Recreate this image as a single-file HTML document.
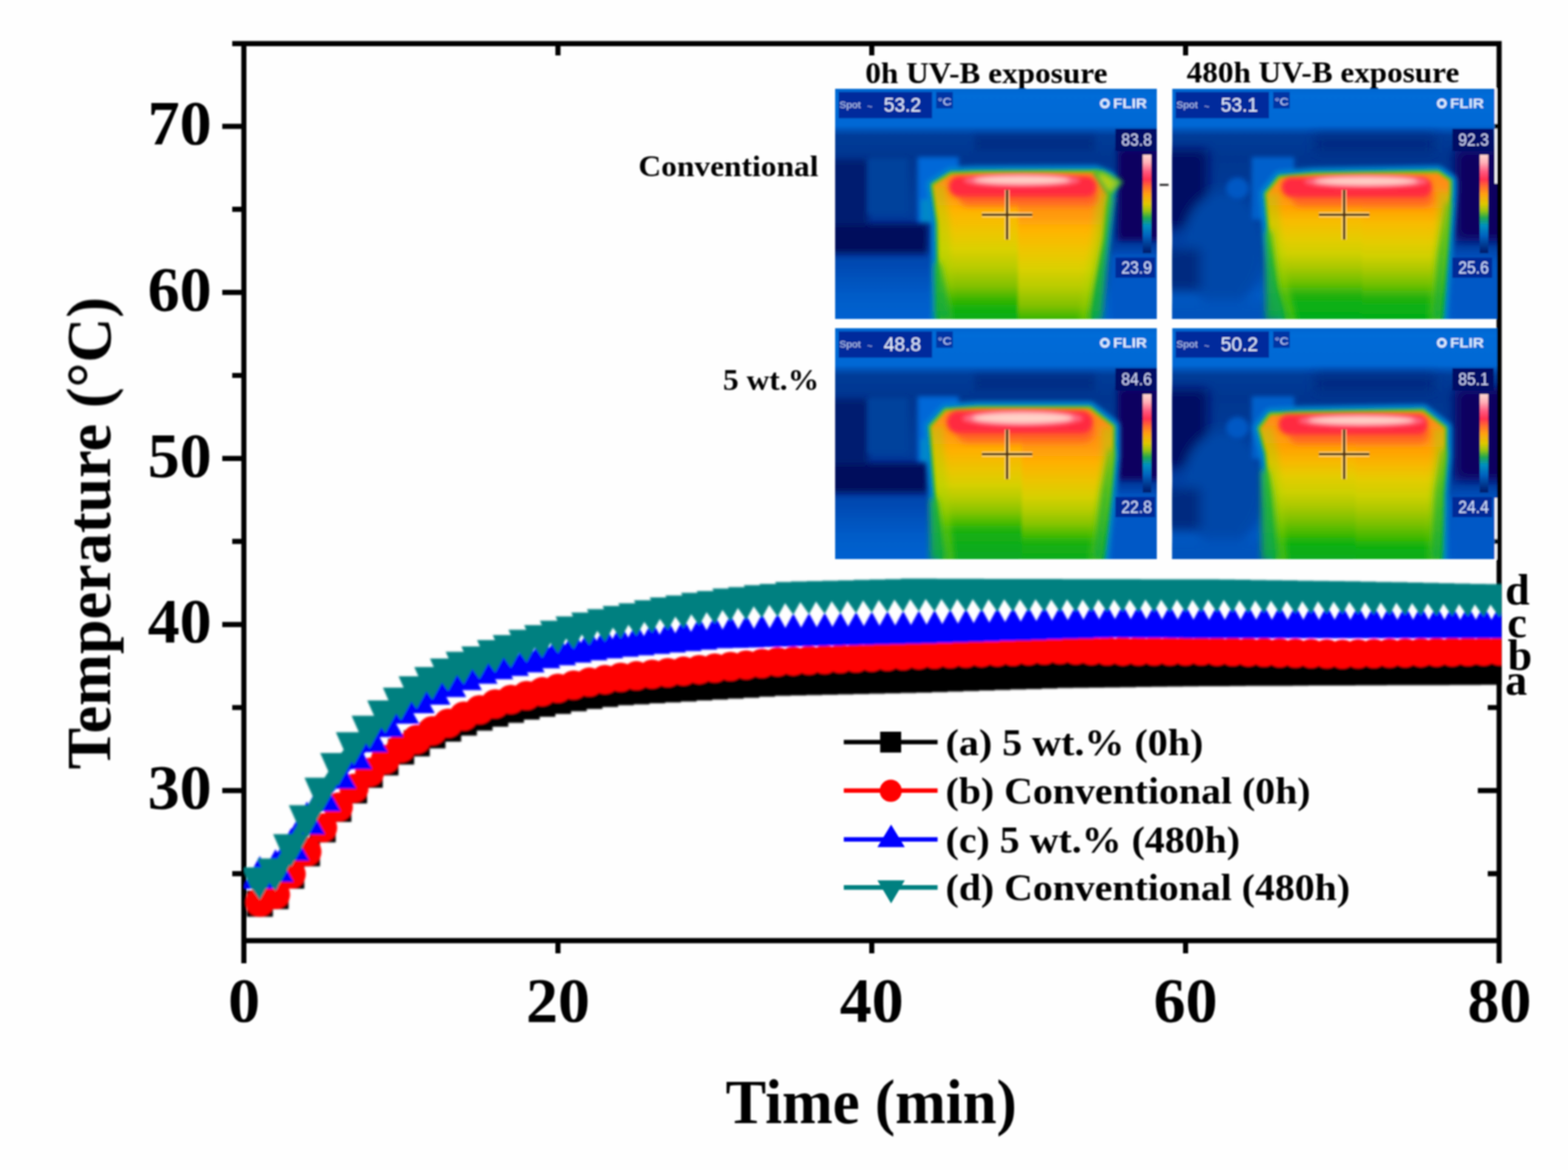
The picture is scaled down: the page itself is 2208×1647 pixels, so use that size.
<!DOCTYPE html>
<html lang="en">
<head>
<meta charset="utf-8">
<title>Temperature vs. time under UV-B exposure</title>
<style>html,body{margin:0;padding:0;background:#fff;overflow:hidden}svg{display:block}</style>
</head>
<body>
<svg width="2208" height="1647" viewBox="0 0 2208 1647">
<rect width="2208" height="1647" fill="#fefefe"/>
<filter id="soft" filterUnits="userSpaceOnUse" x="0" y="0" width="2208" height="1647"><feGaussianBlur stdDeviation="1.15"/></filter>
<g filter="url(#soft)">
<g stroke="#000" stroke-width="7.2" fill="none" stroke-linecap="butt">
<path d="M327 61.3H2114.6M339.79999999999995 1324.2H2114.6M343.4 61.3V1356M2111.0 61.3V1356"/>
<path d="M313 1112.9H343.4M2081 1112.9H2111.0M313 879.1H343.4M2081 879.1H2111.0M313 645.4H343.4M2081 645.4H2111.0M313 411.6H343.4M2081 411.6H2111.0M313 177.8H343.4M2081 177.8H2111.0M327 1229.8H343.4M2095 1229.8H2111.0M327 996H343.4M2095 996H2111.0M327 762.2H343.4M2095 762.2H2111.0M327 528.5H343.4M2095 528.5H2111.0M327 294.7H343.4M2095 294.7H2111.0M785.7 1324.2V1342M785.7 61.3V78M1227.6 1324.2V1342M1227.6 61.3V78M1669.5 1324.2V1342M1669.5 61.3V78"/>
</g>
<clipPath id="pc"><rect x="343.6" y="60" width="1770.8" height="1264"/></clipPath>
<filter id="sf" filterUnits="userSpaceOnUse" x="330" y="780" width="1800" height="540"><feGaussianBlur stdDeviation="0.8"/></filter>
<g clip-path="url(#pc)"><g fill="none" stroke-width="12.0" stroke-linejoin="round" filter="url(#sf)">
<path stroke="#000" d="M365.9 1272.1L388 1261.4L410.1 1232.6L432.2 1201.1L454.3 1167.3L476.4 1138.6L498.5 1112.5L520.6 1090.5L542.7 1073.1L564.8 1057.8L586.8 1046.4L608.9 1035.1L631 1025.6L653.1 1017.1L675.2 1010.1L697.3 1004.6L719.4 999.1L741.5 994.6L763.6 990.6L785.7 986.6L807.8 982.9L829.9 979.6L852 976.8L874.1 974.4L896.2 973.1L918.3 971.7L940.4 970.4L962.5 969.1L984.6 967.8L1006.6 966.4L1028.7 965.1L1050.8 963.8L1072.9 962.4L1095 961.1L1117.1 960.6L1139.2 960.1L1161.3 959.6L1183.4 959.1L1205.5 958.5L1227.6 958L1249.7 957.5L1271.8 957L1293.9 956.5L1316 955.8L1338.1 955.1L1360.2 954.4L1382.3 953.7L1404.4 952.9L1426.5 952.2L1448.5 951.5L1470.6 950.8L1492.7 950.1L1514.8 949.8L1536.9 949.5L1559 949.3L1581.1 949L1603.2 948.7L1625.3 948.4L1647.4 948.2L1669.5 947.9L1691.6 947.6L1713.7 947.5L1735.8 947.4L1757.9 947.2L1780 947.1L1802.1 947L1824.2 946.9L1846.3 946.7L1868.4 946.6L1890.4 946.5L1912.5 946.4L1934.6 946.3L1956.7 946.2L1978.8 946.1L2000.9 946.1L2023 946L2045.1 945.9L2067.2 945.8L2089.3 945.7L2111.4 945.6"/>
<path fill="#000" d="M347.5 1290.5h36.8v-36.8h-36.8zM369.6 1279.8h36.8v-36.8h-36.8zM391.7 1251h36.8v-36.8h-36.8zM413.8 1219.5h36.8v-36.8h-36.8zM435.9 1185.7h36.8v-36.8h-36.8zM458 1157h36.8v-36.8h-36.8zM480.1 1130.9h36.8v-36.8h-36.8zM502.2 1108.9h36.8v-36.8h-36.8zM524.3 1091.5h36.8v-36.8h-36.8zM546.4 1076.2h36.8v-36.8h-36.8zM568.4 1064.8h36.8v-36.8h-36.8zM590.5 1053.5h36.8v-36.8h-36.8zM612.6 1044h36.8v-36.8h-36.8zM634.7 1035.5h36.8v-36.8h-36.8zM656.8 1028.5h36.8v-36.8h-36.8zM678.9 1023h36.8v-36.8h-36.8zM701 1017.5h36.8v-36.8h-36.8zM723.1 1013h36.8v-36.8h-36.8zM745.2 1009h36.8v-36.8h-36.8zM767.3 1005h36.8v-36.8h-36.8zM789.4 1001.3h36.8v-36.8h-36.8zM811.5 998h36.8v-36.8h-36.8zM833.6 995.2h36.8v-36.8h-36.8zM855.7 992.8h36.8v-36.8h-36.8zM877.8 991.5h36.8v-36.8h-36.8zM899.9 990.1h36.8v-36.8h-36.8zM922 988.8h36.8v-36.8h-36.8zM944.1 987.5h36.8v-36.8h-36.8zM966.2 986.1h36.8v-36.8h-36.8zM988.2 984.8h36.8v-36.8h-36.8zM1010.3 983.5h36.8v-36.8h-36.8zM1032.4 982.2h36.8v-36.8h-36.8zM1054.5 980.8h36.8v-36.8h-36.8zM1076.6 979.5h36.8v-36.8h-36.8zM1098.7 979h36.8v-36.8h-36.8zM1120.8 978.5h36.8v-36.8h-36.8zM1142.9 978h36.8v-36.8h-36.8zM1165 977.5h36.8v-36.8h-36.8zM1187.1 976.9h36.8v-36.8h-36.8zM1209.2 976.4h36.8v-36.8h-36.8zM1231.3 975.9h36.8v-36.8h-36.8zM1253.4 975.4h36.8v-36.8h-36.8zM1275.5 974.9h36.8v-36.8h-36.8zM1297.6 974.2h36.8v-36.8h-36.8zM1319.7 973.5h36.8v-36.8h-36.8zM1341.8 972.8h36.8v-36.8h-36.8zM1363.9 972.1h36.8v-36.8h-36.8zM1386 971.3h36.8v-36.8h-36.8zM1408.1 970.6h36.8v-36.8h-36.8zM1430.1 969.9h36.8v-36.8h-36.8zM1452.2 969.2h36.8v-36.8h-36.8zM1474.3 968.5h36.8v-36.8h-36.8zM1496.4 968.2h36.8v-36.8h-36.8zM1518.5 967.9h36.8v-36.8h-36.8zM1540.6 967.7h36.8v-36.8h-36.8zM1562.7 967.4h36.8v-36.8h-36.8zM1584.8 967.1h36.8v-36.8h-36.8zM1606.9 966.8h36.8v-36.8h-36.8zM1629 966.6h36.8v-36.8h-36.8zM1651.1 966.3h36.8v-36.8h-36.8zM1673.2 966h36.8v-36.8h-36.8zM1695.3 965.9h36.8v-36.8h-36.8zM1717.4 965.8h36.8v-36.8h-36.8zM1739.5 965.6h36.8v-36.8h-36.8zM1761.6 965.5h36.8v-36.8h-36.8zM1783.7 965.4h36.8v-36.8h-36.8zM1805.8 965.3h36.8v-36.8h-36.8zM1827.9 965.1h36.8v-36.8h-36.8zM1850 965h36.8v-36.8h-36.8zM1872 964.9h36.8v-36.8h-36.8zM1894.1 964.8h36.8v-36.8h-36.8zM1916.2 964.7h36.8v-36.8h-36.8zM1938.3 964.6h36.8v-36.8h-36.8zM1960.4 964.5h36.8v-36.8h-36.8zM1982.5 964.5h36.8v-36.8h-36.8zM2004.6 964.4h36.8v-36.8h-36.8zM2026.7 964.3h36.8v-36.8h-36.8zM2048.8 964.2h36.8v-36.8h-36.8zM2070.9 964.1h36.8v-36.8h-36.8zM2093 964h36.8v-36.8h-36.8z"/>
<path stroke="#fe0000" d="M365.9 1270L388 1259.3L410.1 1230.5L432.2 1199L454.3 1165.2L476.4 1136L498.5 1109.4L520.6 1086.9L542.7 1069L564.8 1052.9L586.8 1040.8L608.9 1028.5L631 1018L653.1 1008L675.2 999L697.3 990.8L719.4 984.5L741.5 979L763.6 973.6L785.7 968.7L807.8 964.2L829.9 960.1L852 956.5L874.1 953.3L896.2 951.1L918.3 948.9L940.4 946.8L962.5 944.6L984.6 942.4L1006.6 940.2L1028.7 938L1050.8 935.9L1072.9 933.7L1095 931.5L1117.1 930.4L1139.2 929.3L1161.3 928.2L1183.4 927.1L1205.5 926L1227.6 924.9L1249.7 923.8L1271.8 922.7L1293.9 921.6L1316 920.8L1338.1 920L1360.2 919.2L1382.3 918.4L1404.4 917.5L1426.5 916.7L1448.5 915.9L1470.6 915.1L1492.7 914.3L1514.8 914.9L1536.9 915.5L1559 916.1L1581.1 916.4L1603.2 916.3L1625.3 916.3L1647.4 916.2L1669.5 916.2L1691.6 916.1L1713.7 916.6L1735.8 917.1L1757.9 917.6L1780 918.1L1802.1 918.7L1824.2 919.2L1846.3 919.7L1868.4 920.2L1890.4 920.7L1912.5 920.2L1934.6 919.8L1956.7 919.3L1978.8 918.9L2000.9 918.4L2023 917.9L2045.1 917.5L2067.2 917L2089.3 916.6L2111.4 916.1"/>
<path fill="#fe0000" d="M345.4 1270a20.5 20.5 0 1 0 41 0a20.5 20.5 0 1 0 -41 0zM367.5 1259.3a20.5 20.5 0 1 0 41 0a20.5 20.5 0 1 0 -41 0zM389.6 1230.5a20.5 20.5 0 1 0 41 0a20.5 20.5 0 1 0 -41 0zM411.7 1199a20.5 20.5 0 1 0 41 0a20.5 20.5 0 1 0 -41 0zM433.8 1165.2a20.5 20.5 0 1 0 41 0a20.5 20.5 0 1 0 -41 0zM455.9 1136a20.5 20.5 0 1 0 41 0a20.5 20.5 0 1 0 -41 0zM478 1109.4a20.5 20.5 0 1 0 41 0a20.5 20.5 0 1 0 -41 0zM500.1 1086.9a20.5 20.5 0 1 0 41 0a20.5 20.5 0 1 0 -41 0zM522.2 1069a20.5 20.5 0 1 0 41 0a20.5 20.5 0 1 0 -41 0zM544.2 1052.9a20.5 20.5 0 1 0 41 0a20.5 20.5 0 1 0 -41 0zM566.3 1040.8a20.5 20.5 0 1 0 41 0a20.5 20.5 0 1 0 -41 0zM588.4 1028.5a20.5 20.5 0 1 0 41 0a20.5 20.5 0 1 0 -41 0zM610.5 1018a20.5 20.5 0 1 0 41 0a20.5 20.5 0 1 0 -41 0zM632.6 1008a20.5 20.5 0 1 0 41 0a20.5 20.5 0 1 0 -41 0zM654.7 999a20.5 20.5 0 1 0 41 0a20.5 20.5 0 1 0 -41 0zM676.8 990.8a20.5 20.5 0 1 0 41 0a20.5 20.5 0 1 0 -41 0zM698.9 984.5a20.5 20.5 0 1 0 41 0a20.5 20.5 0 1 0 -41 0zM721 979a20.5 20.5 0 1 0 41 0a20.5 20.5 0 1 0 -41 0zM743.1 973.6a20.5 20.5 0 1 0 41 0a20.5 20.5 0 1 0 -41 0zM765.2 968.7a20.5 20.5 0 1 0 41 0a20.5 20.5 0 1 0 -41 0zM787.3 964.2a20.5 20.5 0 1 0 41 0a20.5 20.5 0 1 0 -41 0zM809.4 960.1a20.5 20.5 0 1 0 41 0a20.5 20.5 0 1 0 -41 0zM831.5 956.5a20.5 20.5 0 1 0 41 0a20.5 20.5 0 1 0 -41 0zM853.6 953.3a20.5 20.5 0 1 0 41 0a20.5 20.5 0 1 0 -41 0zM875.7 951.1a20.5 20.5 0 1 0 41 0a20.5 20.5 0 1 0 -41 0zM897.8 948.9a20.5 20.5 0 1 0 41 0a20.5 20.5 0 1 0 -41 0zM919.9 946.8a20.5 20.5 0 1 0 41 0a20.5 20.5 0 1 0 -41 0zM942 944.6a20.5 20.5 0 1 0 41 0a20.5 20.5 0 1 0 -41 0zM964.1 942.4a20.5 20.5 0 1 0 41 0a20.5 20.5 0 1 0 -41 0zM986.1 940.2a20.5 20.5 0 1 0 41 0a20.5 20.5 0 1 0 -41 0zM1008.2 938a20.5 20.5 0 1 0 41 0a20.5 20.5 0 1 0 -41 0zM1030.3 935.9a20.5 20.5 0 1 0 41 0a20.5 20.5 0 1 0 -41 0zM1052.4 933.7a20.5 20.5 0 1 0 41 0a20.5 20.5 0 1 0 -41 0zM1074.5 931.5a20.5 20.5 0 1 0 41 0a20.5 20.5 0 1 0 -41 0zM1096.6 930.4a20.5 20.5 0 1 0 41 0a20.5 20.5 0 1 0 -41 0zM1118.7 929.3a20.5 20.5 0 1 0 41 0a20.5 20.5 0 1 0 -41 0zM1140.8 928.2a20.5 20.5 0 1 0 41 0a20.5 20.5 0 1 0 -41 0zM1162.9 927.1a20.5 20.5 0 1 0 41 0a20.5 20.5 0 1 0 -41 0zM1185 926a20.5 20.5 0 1 0 41 0a20.5 20.5 0 1 0 -41 0zM1207.1 924.9a20.5 20.5 0 1 0 41 0a20.5 20.5 0 1 0 -41 0zM1229.2 923.8a20.5 20.5 0 1 0 41 0a20.5 20.5 0 1 0 -41 0zM1251.3 922.7a20.5 20.5 0 1 0 41 0a20.5 20.5 0 1 0 -41 0zM1273.4 921.6a20.5 20.5 0 1 0 41 0a20.5 20.5 0 1 0 -41 0zM1295.5 920.8a20.5 20.5 0 1 0 41 0a20.5 20.5 0 1 0 -41 0zM1317.6 920a20.5 20.5 0 1 0 41 0a20.5 20.5 0 1 0 -41 0zM1339.7 919.2a20.5 20.5 0 1 0 41 0a20.5 20.5 0 1 0 -41 0zM1361.8 918.4a20.5 20.5 0 1 0 41 0a20.5 20.5 0 1 0 -41 0zM1383.9 917.5a20.5 20.5 0 1 0 41 0a20.5 20.5 0 1 0 -41 0zM1406 916.7a20.5 20.5 0 1 0 41 0a20.5 20.5 0 1 0 -41 0zM1428 915.9a20.5 20.5 0 1 0 41 0a20.5 20.5 0 1 0 -41 0zM1450.1 915.1a20.5 20.5 0 1 0 41 0a20.5 20.5 0 1 0 -41 0zM1472.2 914.3a20.5 20.5 0 1 0 41 0a20.5 20.5 0 1 0 -41 0zM1494.3 914.9a20.5 20.5 0 1 0 41 0a20.5 20.5 0 1 0 -41 0zM1516.4 915.5a20.5 20.5 0 1 0 41 0a20.5 20.5 0 1 0 -41 0zM1538.5 916.1a20.5 20.5 0 1 0 41 0a20.5 20.5 0 1 0 -41 0zM1560.6 916.4a20.5 20.5 0 1 0 41 0a20.5 20.5 0 1 0 -41 0zM1582.7 916.3a20.5 20.5 0 1 0 41 0a20.5 20.5 0 1 0 -41 0zM1604.8 916.3a20.5 20.5 0 1 0 41 0a20.5 20.5 0 1 0 -41 0zM1626.9 916.2a20.5 20.5 0 1 0 41 0a20.5 20.5 0 1 0 -41 0zM1649 916.2a20.5 20.5 0 1 0 41 0a20.5 20.5 0 1 0 -41 0zM1671.1 916.1a20.5 20.5 0 1 0 41 0a20.5 20.5 0 1 0 -41 0zM1693.2 916.6a20.5 20.5 0 1 0 41 0a20.5 20.5 0 1 0 -41 0zM1715.3 917.1a20.5 20.5 0 1 0 41 0a20.5 20.5 0 1 0 -41 0zM1737.4 917.6a20.5 20.5 0 1 0 41 0a20.5 20.5 0 1 0 -41 0zM1759.5 918.1a20.5 20.5 0 1 0 41 0a20.5 20.5 0 1 0 -41 0zM1781.6 918.7a20.5 20.5 0 1 0 41 0a20.5 20.5 0 1 0 -41 0zM1803.7 919.2a20.5 20.5 0 1 0 41 0a20.5 20.5 0 1 0 -41 0zM1825.8 919.7a20.5 20.5 0 1 0 41 0a20.5 20.5 0 1 0 -41 0zM1847.9 920.2a20.5 20.5 0 1 0 41 0a20.5 20.5 0 1 0 -41 0zM1869.9 920.7a20.5 20.5 0 1 0 41 0a20.5 20.5 0 1 0 -41 0zM1892 920.2a20.5 20.5 0 1 0 41 0a20.5 20.5 0 1 0 -41 0zM1914.1 919.8a20.5 20.5 0 1 0 41 0a20.5 20.5 0 1 0 -41 0zM1936.2 919.3a20.5 20.5 0 1 0 41 0a20.5 20.5 0 1 0 -41 0zM1958.3 918.9a20.5 20.5 0 1 0 41 0a20.5 20.5 0 1 0 -41 0zM1980.4 918.4a20.5 20.5 0 1 0 41 0a20.5 20.5 0 1 0 -41 0zM2002.5 917.9a20.5 20.5 0 1 0 41 0a20.5 20.5 0 1 0 -41 0zM2024.6 917.5a20.5 20.5 0 1 0 41 0a20.5 20.5 0 1 0 -41 0zM2046.7 917a20.5 20.5 0 1 0 41 0a20.5 20.5 0 1 0 -41 0zM2068.8 916.6a20.5 20.5 0 1 0 41 0a20.5 20.5 0 1 0 -41 0zM2090.9 916.1a20.5 20.5 0 1 0 41 0a20.5 20.5 0 1 0 -41 0z"/>
<path stroke="#0000fe" d="M365.9 1235.7L388 1226.3L410.1 1196.3L432.2 1159.2L454.3 1126.7L476.4 1094.9L498.5 1067.5L520.6 1043.5L542.7 1022.1L564.8 1003.4L586.8 988.7L608.9 976.7L631 966L653.1 956.2L675.2 947.3L697.3 941L719.4 936.1L741.5 931.3L763.6 925.4L785.7 921.2L807.8 917.4L829.9 914.1L852 911.4L874.1 909.2L896.2 907.2L918.3 905.2L940.4 903.2L962.5 901.2L984.6 899.2L1006.6 897.2L1028.7 896.6L1050.8 896L1072.9 895.4L1095 894.9L1117.1 894.4L1139.2 893.9L1161.3 893.4L1183.4 892.9L1205.5 892.4L1227.6 891.9L1249.7 891.4L1271.8 890.9L1293.9 890.4L1316 889.7L1338.1 888.9L1360.2 888.2L1382.3 887.5L1404.4 886.8L1426.5 886.1L1448.5 885.4L1470.6 884.7L1492.7 884L1514.8 883.4L1536.9 882.8L1559 882.2L1581.1 882.3L1603.2 882.5L1625.3 882.6L1647.4 882.8L1669.5 882.9L1691.6 883.1L1713.7 883.1L1735.8 883.1L1757.9 883.1L1780 883.1L1802.1 883.1L1824.2 883.1L1846.3 883.1L1868.4 883.1L1890.4 883.1L1912.5 883.1L1934.6 883.1L1956.7 883.1L1978.8 883.1L2000.9 883.1L2023 883.1L2045.1 883.1L2067.2 883.1L2089.3 883.1L2111.4 883.1"/>
<path fill="#0000fe" d="M340.4 1251h51l-25.5 -46zM362.5 1241.6h51l-25.5 -46zM384.6 1211.6h51l-25.5 -46zM406.7 1174.5h51l-25.5 -46zM428.8 1142h51l-25.5 -46zM450.9 1110.2h51l-25.5 -46zM473 1082.8h51l-25.5 -46zM495.1 1058.8h51l-25.5 -46zM517.2 1037.4h51l-25.5 -46zM539.2 1018.7h51l-25.5 -46zM561.3 1004h51l-25.5 -46zM583.4 992h51l-25.5 -46zM605.5 981.3h51l-25.5 -46zM627.6 971.5h51l-25.5 -46zM649.7 962.6h51l-25.5 -46zM671.8 956.3h51l-25.5 -46zM693.9 951.4h51l-25.5 -46zM716 946.6h51l-25.5 -46zM738.1 940.7h51l-25.5 -46zM760.2 936.5h51l-25.5 -46zM782.3 932.7h51l-25.5 -46zM804.4 929.4h51l-25.5 -46zM826.5 926.7h51l-25.5 -46zM848.6 924.5h51l-25.5 -46zM870.7 922.5h51l-25.5 -46zM892.8 920.5h51l-25.5 -46zM914.9 918.5h51l-25.5 -46zM937 916.5h51l-25.5 -46zM959.1 914.5h51l-25.5 -46zM981.1 912.5h51l-25.5 -46zM1003.2 911.9h51l-25.5 -46zM1025.3 911.4h51l-25.5 -46zM1047.4 910.8h51l-25.5 -46zM1069.5 910.2h51l-25.5 -46zM1091.6 909.7h51l-25.5 -46zM1113.7 909.2h51l-25.5 -46zM1135.8 908.7h51l-25.5 -46zM1157.9 908.2h51l-25.5 -46zM1180 907.7h51l-25.5 -46zM1202.1 907.2h51l-25.5 -46zM1224.2 906.7h51l-25.5 -46zM1246.3 906.2h51l-25.5 -46zM1268.4 905.7h51l-25.5 -46zM1290.5 905h51l-25.5 -46zM1312.6 904.3h51l-25.5 -46zM1334.7 903.6h51l-25.5 -46zM1356.8 902.9h51l-25.5 -46zM1378.9 902.1h51l-25.5 -46zM1401 901.4h51l-25.5 -46zM1423 900.7h51l-25.5 -46zM1445.1 900h51l-25.5 -46zM1467.2 899.3h51l-25.5 -46zM1489.3 898.7h51l-25.5 -46zM1511.4 898.1h51l-25.5 -46zM1533.5 897.5h51l-25.5 -46zM1555.6 897.6h51l-25.5 -46zM1577.7 897.8h51l-25.5 -46zM1599.8 898h51l-25.5 -46zM1621.9 898.1h51l-25.5 -46zM1644 898.2h51l-25.5 -46zM1666.1 898.4h51l-25.5 -46zM1688.2 898.4h51l-25.5 -46zM1710.3 898.4h51l-25.5 -46zM1732.4 898.4h51l-25.5 -46zM1754.5 898.4h51l-25.5 -46zM1776.6 898.4h51l-25.5 -46zM1798.7 898.4h51l-25.5 -46zM1820.8 898.4h51l-25.5 -46zM1842.9 898.4h51l-25.5 -46zM1864.9 898.4h51l-25.5 -46zM1887 898.4h51l-25.5 -46zM1909.1 898.4h51l-25.5 -46zM1931.2 898.4h51l-25.5 -46zM1953.3 898.4h51l-25.5 -46zM1975.4 898.4h51l-25.5 -46zM1997.5 898.4h51l-25.5 -46zM2019.6 898.4h51l-25.5 -46zM2041.7 898.4h51l-25.5 -46zM2063.8 898.4h51l-25.5 -46zM2085.9 898.4h51l-25.5 -46z"/>
<path stroke="#008080" d="M365.9 1236.3L388 1223.7L410.1 1189.5L432.2 1148.7L454.3 1110L476.4 1075.4L498.5 1046.1L520.6 1022.7L542.7 1001.3L564.8 983.3L586.8 967.3L608.9 954.3L631 942.3L653.1 932.8L675.2 925.3L697.3 916.3L719.4 909.3L741.5 901.8L763.6 895.3L785.7 889L807.8 883L829.9 877.5L852 872.7L874.1 868.2L896.2 864.5L918.3 860.3L940.4 856.3L962.5 853.6L984.6 849.8L1006.6 847.2L1028.7 843.9L1050.8 841.7L1072.9 839L1095 837.2L1117.1 834.5L1139.2 834L1161.3 833.4L1183.4 832.8L1205.5 832.2L1227.6 831.7L1249.7 831.1L1271.8 830.5L1293.9 829.9L1316 830L1338.1 830.1L1360.2 830.1L1382.3 830.2L1404.4 830.3L1426.5 830.3L1448.5 830.4L1470.6 830.5L1492.7 830.5L1514.8 830.6L1536.9 830.6L1559 830.6L1581.1 830.7L1603.2 830.7L1625.3 830.7L1647.4 830.8L1669.5 830.8L1691.6 830.8L1713.7 831.1L1735.8 831.5L1757.9 831.8L1780 832.1L1802.1 832.4L1824.2 832.7L1846.3 833L1868.4 833.3L1890.4 833.6L1912.5 834.1L1934.6 834.5L1956.7 835L1978.8 835.4L2000.9 835.9L2023 836.3L2045.1 836.8L2067.2 837.2L2089.3 837.7L2111.4 838.1"/>
<path fill="#008080" d="M340.4 1221h51l-25.5 46l-13.5 -19zM362.5 1208.4h51l-25.5 46l-13.5 -19zM384.6 1174.2h51l-25.5 46l-13.5 -19zM406.7 1133.4h51l-25.5 46l-13.5 -19zM428.8 1094.7h51l-25.5 46l-13.5 -19zM450.9 1060.1h51l-25.5 46l-13.5 -19zM473 1030.8h51l-25.5 46l-13.5 -19zM495.1 1007.4h51l-25.5 46l-13.5 -19zM517.2 986h51l-25.5 46l-13.5 -19zM539.2 968h51l-25.5 46l-13.5 -19zM561.3 952h51l-25.5 46l-13.5 -19zM583.4 939h51l-25.5 46l-13.5 -19zM605.5 927h51l-25.5 46l-13.5 -19zM627.6 917.5h51l-25.5 46l-13.5 -19zM649.7 910h51l-25.5 46l-13.5 -19zM671.8 901h51l-25.5 46l-13.5 -19zM693.9 894h51l-25.5 46l-13.5 -19zM716 886.5h51l-25.5 46l-13.5 -19zM738.1 880h51l-25.5 46l-13.5 -19zM760.2 873.7h51l-25.5 46l-13.5 -19zM782.3 867.7h51l-25.5 46l-13.5 -19zM804.4 862.2h51l-25.5 46l-13.5 -19zM826.5 857.4h51l-25.5 46l-13.5 -19zM848.6 852.9h51l-25.5 46l-13.5 -19zM870.7 849.2h51l-25.5 46l-13.5 -19zM892.8 845h51l-25.5 46l-13.5 -19zM914.9 841h51l-25.5 46l-13.5 -19zM937 838.3h51l-25.5 46l-13.5 -19zM959.1 834.5h51l-25.5 46l-13.5 -19zM981.1 831.9h51l-25.5 46l-13.5 -19zM1003.2 828.6h51l-25.5 46l-13.5 -19zM1025.3 826.4h51l-25.5 46l-13.5 -19zM1047.4 823.7h51l-25.5 46l-13.5 -19zM1069.5 821.9h51l-25.5 46l-13.5 -19zM1091.6 819.2h51l-25.5 46l-13.5 -19zM1113.7 818.6h51l-25.5 46l-13.5 -19zM1135.8 818.1h51l-25.5 46l-13.5 -19zM1157.9 817.5h51l-25.5 46l-13.5 -19zM1180 816.9h51l-25.5 46l-13.5 -19zM1202.1 816.3h51l-25.5 46l-13.5 -19zM1224.2 815.8h51l-25.5 46l-13.5 -19zM1246.3 815.2h51l-25.5 46l-13.5 -19zM1268.4 814.6h51l-25.5 46l-13.5 -19zM1290.5 814.7h51l-25.5 46l-13.5 -19zM1312.6 814.7h51l-25.5 46l-13.5 -19zM1334.7 814.8h51l-25.5 46l-13.5 -19zM1356.8 814.9h51l-25.5 46l-13.5 -19zM1378.9 814.9h51l-25.5 46l-13.5 -19zM1401 815h51l-25.5 46l-13.5 -19zM1423 815.1h51l-25.5 46l-13.5 -19zM1445.1 815.1h51l-25.5 46l-13.5 -19zM1467.2 815.2h51l-25.5 46l-13.5 -19zM1489.3 815.2h51l-25.5 46l-13.5 -19zM1511.4 815.3h51l-25.5 46l-13.5 -19zM1533.5 815.3h51l-25.5 46l-13.5 -19zM1555.6 815.3h51l-25.5 46l-13.5 -19zM1577.7 815.4h51l-25.5 46l-13.5 -19zM1599.8 815.4h51l-25.5 46l-13.5 -19zM1621.9 815.4h51l-25.5 46l-13.5 -19zM1644 815.5h51l-25.5 46l-13.5 -19zM1666.1 815.5h51l-25.5 46l-13.5 -19zM1688.2 815.8h51l-25.5 46l-13.5 -19zM1710.3 816.1h51l-25.5 46l-13.5 -19zM1732.4 816.4h51l-25.5 46l-13.5 -19zM1754.5 816.7h51l-25.5 46l-13.5 -19zM1776.6 817.1h51l-25.5 46l-13.5 -19zM1798.7 817.4h51l-25.5 46l-13.5 -19zM1820.8 817.7h51l-25.5 46l-13.5 -19zM1842.9 818h51l-25.5 46l-13.5 -19zM1864.9 818.3h51l-25.5 46l-13.5 -19zM1887 818.8h51l-25.5 46l-13.5 -19zM1909.1 819.2h51l-25.5 46l-13.5 -19zM1931.2 819.6h51l-25.5 46l-13.5 -19zM1953.3 820.1h51l-25.5 46l-13.5 -19zM1975.4 820.5h51l-25.5 46l-13.5 -19zM1997.5 821h51l-25.5 46l-13.5 -19zM2019.6 821.4h51l-25.5 46l-13.5 -19zM2041.7 821.9h51l-25.5 46l-13.5 -19zM2063.8 822.3h51l-25.5 46l-13.5 -19zM2085.9 822.8h51l-25.5 46l-13.5 -19z"/>
</g></g>
<g stroke-width="6.4" fill="none">
<path stroke="#000" d="M1188.2 1044.6H1320.3"/>
<path stroke="#fe0000" d="M1188.2 1112.9H1320.3"/>
<path stroke="#0000fe" d="M1188.2 1181.6H1320.3"/>
<path stroke="#008080" d="M1188.2 1249.2H1320.3"/>
</g>
<rect x="1239.4" y="1030" width="29.6" height="29.4" fill="#000"/>
<circle cx="1254.3" cy="1113.2" r="15.6" fill="#fe0000"/>
<path fill="#0000fe" d="M1235.5 1192.4h38.6l-19.3 -31.6z"/>
<path fill="#008080" d="M1235.5 1239.3h38.6l-19.3 32.4z"/>
<g font-family="'Liberation Serif',serif" font-weight="bold" fill="#000">
<text x="298" y="1138.1" font-size="88" text-anchor="end" textLength="90" lengthAdjust="spacingAndGlyphs">30</text>
<text x="298" y="904.3" font-size="88" text-anchor="end" textLength="90" lengthAdjust="spacingAndGlyphs">40</text>
<text x="298" y="670.6" font-size="88" text-anchor="end" textLength="90" lengthAdjust="spacingAndGlyphs">50</text>
<text x="298" y="436.8" font-size="88" text-anchor="end" textLength="90" lengthAdjust="spacingAndGlyphs">60</text>
<text x="298" y="203" font-size="88" text-anchor="end" textLength="90" lengthAdjust="spacingAndGlyphs">70</text>
<text x="343.8" y="1437.6" font-size="88" text-anchor="middle" textLength="45" lengthAdjust="spacingAndGlyphs">0</text>
<text x="785.7" y="1437.6" font-size="88" text-anchor="middle" textLength="90" lengthAdjust="spacingAndGlyphs">20</text>
<text x="1227.6" y="1437.6" font-size="88" text-anchor="middle" textLength="90" lengthAdjust="spacingAndGlyphs">40</text>
<text x="1669.5" y="1437.6" font-size="88" text-anchor="middle" textLength="90" lengthAdjust="spacingAndGlyphs">60</text>
<text x="2111.4" y="1437.6" font-size="88" text-anchor="middle" textLength="90" lengthAdjust="spacingAndGlyphs">80</text>
<text x="1226.8" y="1581" font-size="88" text-anchor="middle" textLength="410" lengthAdjust="spacingAndGlyphs">Time (min)</text>
<text transform="translate(155 750.5) rotate(-90)" font-size="88" text-anchor="middle" textLength="665" lengthAdjust="spacingAndGlyphs">Temperature (°C)</text>
<text x="1331.5" y="1062.6" font-size="52" textLength="363" lengthAdjust="spacingAndGlyphs">(a) 5 wt.% (0h)</text>
<text x="1331.5" y="1130.6" font-size="52" textLength="514" lengthAdjust="spacingAndGlyphs">(b) Conventional (0h)</text>
<text x="1331.5" y="1199.6" font-size="52" textLength="414.7" lengthAdjust="spacingAndGlyphs">(c) 5 wt.% (480h)</text>
<text x="1331.5" y="1266.5" font-size="52" textLength="569.6" lengthAdjust="spacingAndGlyphs">(d) Conventional (480h)</text>
<text x="2119.5" y="851" font-size="62">d</text>
<text x="2122.5" y="896.6" font-size="62">c</text>
<text x="2123" y="943" font-size="62">b</text>
<text x="2119.5" y="977.6" font-size="62">a</text>
<text x="1218.5" y="116.6" font-size="43" textLength="341" lengthAdjust="spacingAndGlyphs">0h UV-B exposure</text>
<text x="1671" y="115.6" font-size="43" textLength="384" lengthAdjust="spacingAndGlyphs">480h UV-B exposure</text>
<text x="1152.5" y="248.4" font-size="43" text-anchor="end" textLength="253.5" lengthAdjust="spacingAndGlyphs">Conventional</text>
<text x="1153.5" y="548.6" font-size="42" text-anchor="end" textLength="135.5" lengthAdjust="spacingAndGlyphs">5 wt.%</text>
</g>
<defs>
<filter id="b1" x="-20%" y="-20%" width="140%" height="140%"><feGaussianBlur stdDeviation="1.3"/></filter>
<filter id="b2" x="-20%" y="-20%" width="140%" height="140%"><feGaussianBlur stdDeviation="2.2"/></filter>
<filter id="b3" x="-30%" y="-30%" width="160%" height="160%"><feGaussianBlur stdDeviation="3.2"/></filter>
<filter id="b5" x="-30%" y="-30%" width="160%" height="160%"><feGaussianBlur stdDeviation="5"/></filter>
<filter id="b8" x="-40%" y="-40%" width="180%" height="180%"><feGaussianBlur stdDeviation="8"/></filter>
<filter id="t1" x="-10%" y="-10%" width="120%" height="120%"><feGaussianBlur stdDeviation="0.55"/></filter>
<linearGradient id="bg" x1="0" y1="0" x2="0" y2="1">
<stop offset="0" stop-color="#0066d0"/><stop offset=".03" stop-color="#006cd8"/><stop offset=".16" stop-color="#0068d4"/>
<stop offset=".182" stop-color="#0050b4"/><stop offset=".205" stop-color="#003c98"/><stop offset=".3" stop-color="#003690"/>
<stop offset=".5" stop-color="#003c98"/><stop offset=".62" stop-color="#00389a"/><stop offset=".75" stop-color="#0048b0"/>
<stop offset=".9" stop-color="#005cc8"/><stop offset="1" stop-color="#0062d0"/>
</linearGradient>
<linearGradient id="body0L" gradientUnits="userSpaceOnUse" x1="0" y1="0" x2="0" y2="400"><stop offset="0.2950" stop-color="#ff8a14"/><stop offset="0.3800" stop-color="#ff9a10"/><stop offset="0.4300" stop-color="#ffb400"/><stop offset="0.4950" stop-color="#f0c400"/><stop offset="0.5625" stop-color="#dcd000"/><stop offset="0.6300" stop-color="#b8cc00"/><stop offset="0.6975" stop-color="#80c000"/><stop offset="0.7475" stop-color="#30b400"/><stop offset="0.7800" stop-color="#10b010"/><stop offset="0.8250" stop-color="#08ac18"/></linearGradient>
<linearGradient id="body0R" gradientUnits="userSpaceOnUse" x1="0" y1="0" x2="0" y2="400"><stop offset="0.3625" stop-color="#ff8a14"/><stop offset="0.4475" stop-color="#ff9a10"/><stop offset="0.4975" stop-color="#ffb400"/><stop offset="0.5625" stop-color="#f0c400"/><stop offset="0.6300" stop-color="#dcd000"/><stop offset="0.6975" stop-color="#b8cc00"/><stop offset="0.7650" stop-color="#80c000"/><stop offset="0.8150" stop-color="#30b400"/><stop offset="0.8475" stop-color="#10b010"/><stop offset="0.8925" stop-color="#08ac18"/></linearGradient>
<linearGradient id="body1L" gradientUnits="userSpaceOnUse" x1="0" y1="0" x2="0" y2="400"><stop offset="0.2950" stop-color="#ff8a14"/><stop offset="0.3950" stop-color="#ff9a10"/><stop offset="0.4200" stop-color="#ffa400"/><stop offset="0.4650" stop-color="#f8bc00"/><stop offset="0.5300" stop-color="#e4cc00"/><stop offset="0.5800" stop-color="#d0d000"/><stop offset="0.6300" stop-color="#a8c800"/><stop offset="0.6800" stop-color="#70c000"/><stop offset="0.7300" stop-color="#20b010"/><stop offset="0.7650" stop-color="#08b014"/><stop offset="0.8250" stop-color="#04aa20"/></linearGradient>
<linearGradient id="body1R" gradientUnits="userSpaceOnUse" x1="0" y1="0" x2="0" y2="400"><stop offset="0.3050" stop-color="#ff8a14"/><stop offset="0.4050" stop-color="#ff9a10"/><stop offset="0.4300" stop-color="#ffa400"/><stop offset="0.4750" stop-color="#f8bc00"/><stop offset="0.5400" stop-color="#e4cc00"/><stop offset="0.5900" stop-color="#d0d000"/><stop offset="0.6400" stop-color="#a8c800"/><stop offset="0.6900" stop-color="#70c000"/><stop offset="0.7400" stop-color="#20b010"/><stop offset="0.7750" stop-color="#08b014"/><stop offset="0.8350" stop-color="#04aa20"/></linearGradient>
<linearGradient id="body2L" gradientUnits="userSpaceOnUse" x1="0" y1="0" x2="0" y2="400"><stop offset="0.2850" stop-color="#ff8a14"/><stop offset="0.3750" stop-color="#ff9a10"/><stop offset="0.4300" stop-color="#ffb000"/><stop offset="0.4950" stop-color="#ecc400"/><stop offset="0.5500" stop-color="#d8d000"/><stop offset="0.6000" stop-color="#b4cc00"/><stop offset="0.6450" stop-color="#88c400"/><stop offset="0.6800" stop-color="#50bc00"/><stop offset="0.7150" stop-color="#18b010"/><stop offset="0.8250" stop-color="#04a828"/></linearGradient>
<linearGradient id="body2R" gradientUnits="userSpaceOnUse" x1="0" y1="0" x2="0" y2="400"><stop offset="0.3275" stop-color="#ff8a14"/><stop offset="0.4175" stop-color="#ff9a10"/><stop offset="0.4725" stop-color="#ffb000"/><stop offset="0.5375" stop-color="#ecc400"/><stop offset="0.5925" stop-color="#d8d000"/><stop offset="0.6425" stop-color="#b4cc00"/><stop offset="0.6875" stop-color="#88c400"/><stop offset="0.7225" stop-color="#50bc00"/><stop offset="0.7575" stop-color="#18b010"/><stop offset="0.8675" stop-color="#04a828"/></linearGradient>
<linearGradient id="body3L" gradientUnits="userSpaceOnUse" x1="0" y1="0" x2="0" y2="400"><stop offset="0.2950" stop-color="#ff8a14"/><stop offset="0.3775" stop-color="#ff9810"/><stop offset="0.4250" stop-color="#ffa400"/><stop offset="0.4700" stop-color="#f8b800"/><stop offset="0.5200" stop-color="#e4cc00"/><stop offset="0.5800" stop-color="#ccd000"/><stop offset="0.6300" stop-color="#a8c800"/><stop offset="0.6800" stop-color="#78c000"/><stop offset="0.7250" stop-color="#40b800"/><stop offset="0.7575" stop-color="#10b010"/><stop offset="0.8250" stop-color="#04aa20"/></linearGradient>
<linearGradient id="body3R" gradientUnits="userSpaceOnUse" x1="0" y1="0" x2="0" y2="400"><stop offset="0.3075" stop-color="#ff8a14"/><stop offset="0.3900" stop-color="#ff9810"/><stop offset="0.4375" stop-color="#ffa400"/><stop offset="0.4825" stop-color="#f8b800"/><stop offset="0.5325" stop-color="#e4cc00"/><stop offset="0.5925" stop-color="#ccd000"/><stop offset="0.6425" stop-color="#a8c800"/><stop offset="0.6925" stop-color="#78c000"/><stop offset="0.7375" stop-color="#40b800"/><stop offset="0.7700" stop-color="#10b010"/><stop offset="0.8375" stop-color="#04aa20"/></linearGradient>
<linearGradient id="fringe" gradientUnits="userSpaceOnUse" x1="0" y1="118" x2="0" y2="324">
<stop offset="0" stop-color="#58c818"/><stop offset=".5" stop-color="#30b828"/><stop offset="1" stop-color="#10a840"/>
</linearGradient>
<linearGradient id="cbar" x1="0" y1="0" x2="0" y2="1">
<stop offset="0" stop-color="#ffd8d0"/><stop offset=".08" stop-color="#ffb0b8"/><stop offset=".17" stop-color="#ff5a80"/>
<stop offset=".25" stop-color="#ff3050"/><stop offset=".32" stop-color="#ff6a30"/><stop offset=".4" stop-color="#ffa010"/>
<stop offset=".5" stop-color="#e0c800"/><stop offset=".57" stop-color="#98c410"/><stop offset=".64" stop-color="#20a850"/>
<stop offset=".72" stop-color="#0090c0"/><stop offset=".82" stop-color="#0064c0"/><stop offset=".92" stop-color="#003890"/>
<stop offset="1" stop-color="#041a68"/>
</linearGradient>
</defs>
<clipPath id="tc0"><rect width="453" height="324"/></clipPath>
<g transform="translate(1176 125)"><g clip-path="url(#tc0)">
<rect width="453" height="324" fill="url(#bg)"/>
<g filter="url(#b5)">
<rect x="-20" y="190" width="150" height="42" fill="#02085c"/>
<rect x="-20" y="100" width="66" height="92" fill="#001c70"/>
<rect x="196" y="66" width="170" height="22" fill="#002f86"/>
<rect x="398" y="84" width="80" height="130" fill="#0a0660"/>
<rect x="388" y="232" width="80" height="110" fill="#0058c6"/>
</g>
<g filter="url(#b3)">
<rect x="46" y="98" width="56" height="78" fill="#00429c"/>
<rect x="116" y="96" width="58" height="92" fill="#0068d8"/>
<rect x="121" y="156" width="20" height="32" fill="#0088c8"/>
</g>
<path d="M139 136L163 121L200 119.5L366 118.5L384 126L384 146L381 166L377 212L366 280L360 326L354 400L150 400L148 326L146 189z" fill="none" stroke="#0084d0" stroke-width="22" stroke-linejoin="round" filter="url(#b3)"/>
<path d="M139 136L163 121L200 119.5L366 118.5L384 126L384 146L381 166L377 212L366 280L360 326L354 400L150 400L148 326L146 189z" fill="url(#fringe)" stroke="url(#fringe)" stroke-width="9" stroke-linejoin="round" filter="url(#b2)"/>
<clipPath id="bc0"><path d="M139 136L163 121L200 119.5L366 118.5L384 126L384 146L381 166L377 212L366 280L360 326L354 400L150 400L148 326L146 189z"/></clipPath>
<g filter="url(#b2)"><path d="M139 136L163 121L200 119.5L366 118.5L384 126L384 146L381 166L377 212L366 280L360 326L354 400L150 400L148 326L146 189z" fill="url(#body0L)" stroke="url(#body0L)" stroke-width="1" stroke-linejoin="round"/><rect x="257.6" y="0" width="300" height="340" fill="url(#body0R)" clip-path="url(#bc0)"/></g>
<g clip-path="url(#bc0)"><path d="M139 136L146 189L148 326L150 400M384 146L381 166L377 212L366 280L360 326L354 400" fill="none" stroke="#a8d400" stroke-opacity=".42" stroke-width="30" stroke-linejoin="round" filter="url(#b5)"/></g>
<path d="M366 119L376 117L402 131L388 148L384 146z" fill="#b4d414" stroke="#38bc30" stroke-width="5" stroke-linejoin="round" fill-opacity=".9" filter="url(#b3)"/>
<path d="M140 245L148 245L166 326L140 326z" fill="url(#fringe)" fill-opacity=".9" filter="url(#b5)"/>
<path d="M383 150L392 150L384 212L376 326L356 326L364 280L377 212z" fill="url(#fringe)" fill-opacity=".9" filter="url(#b5)"/>
<rect x="174" y="138" width="196" height="27" rx="13.5" fill="#ff5a28" fill-opacity=".8" filter="url(#b5)"/>
<rect x="160" y="123" width="208" height="29" rx="14.5" fill="#ff2a40" filter="url(#b3)"/>
<ellipse cx="263" cy="129.0" rx="82" ry="9.0" fill="#ff6c84" filter="url(#b3)"/>
<ellipse cx="263" cy="128.5" rx="68" ry="6.0" fill="#ffd2c8" filter="url(#b3)"/>
<g filter="url(#t1)" fill="none"><path d="M206.7 177.3h71M242.2 142.3v70" stroke="#ffe0a0" stroke-width="7" stroke-opacity=".7"/><path d="M206.7 177.3h71M242.2 142.3v70" stroke="#50300a" stroke-width="3.3"/></g>
<g filter="url(#t1)">
<rect x="5" y="4.5" width="131.5" height="37" fill="#002c9c"/>
<rect x="142.4" y="4.6" width="23.3" height="23" fill="#0034a4"/>
<rect x="394.7" y="56.5" width="58" height="31" fill="#060c66"/>
<rect x="394.7" y="237.6" width="56" height="28.5" fill="#002a98"/>
<rect x="433.2" y="92.8" width="12" height="138.5" fill="url(#cbar)"/>
<g font-family="'Liberation Sans',sans-serif" fill="#e4eeff">
<text x="6" y="27" font-size="12.5" fill="#c0d0f4" textLength="30" lengthAdjust="spacingAndGlyphs">Spot</text>
<text x="45" y="28.5" font-size="13" fill="#a8bce8">~</text>
<text x="68.5" y="32" font-size="27" textLength="52.5" lengthAdjust="spacingAndGlyphs">53.2</text>
<text x="144.5" y="22.5" font-size="14.5" fill="#c4d8ff" textLength="19.5" lengthAdjust="spacingAndGlyphs">°C</text>
<circle cx="379.8" cy="20.6" r="5.2" fill="none" stroke="#e0eeff" stroke-width="3.4"/>
<text x="391.5" y="27.4" font-size="18" font-weight="bold" fill="#dcecff" textLength="47.5" lengthAdjust="spacingAndGlyphs">FLIR</text>
<text x="403" y="79.8" font-size="24" fill="#d0d8f8" textLength="43" lengthAdjust="spacingAndGlyphs">83.8</text>
<text x="403" y="260.4" font-size="24" fill="#d4e2ff" textLength="43" lengthAdjust="spacingAndGlyphs">23.9</text>
</g></g>
</g></g>
<clipPath id="tc1"><rect width="457.6" height="324"/></clipPath>
<g transform="translate(1650.5 125)"><g clip-path="url(#tc1)">
<rect width="457.6" height="324" fill="url(#bg)"/>
<g filter="url(#b8)">
<rect x="-20" y="86" width="70" height="110" fill="#031064"/>
<ellipse cx="72" cy="225" rx="58" ry="80" fill="#0046a8"/>
<rect x="-20" y="225" width="60" height="60" fill="#002a80"/>
<rect x="200" y="66" width="170" height="24" fill="#002c82"/>
<rect x="398" y="84" width="80" height="130" fill="#0a0660"/>
<rect x="388" y="236" width="80" height="100" fill="#0058c6"/>
<rect x="-20" y="296" width="160" height="50" fill="#0052bc"/>
</g>
<g filter="url(#b3)">
<rect x="112" y="96" width="60" height="88" fill="#0060cc"/>
<ellipse cx="92" cy="140" rx="16" ry="15" fill="#0058c4"/>
</g>
<path d="M134 148L152 126L200 122L374 119L390 130L390 145L384 234L377 326L370 400L172 400L160 326L148 280L139 212z" fill="none" stroke="#0084d0" stroke-width="22" stroke-linejoin="round" filter="url(#b3)"/>
<path d="M134 148L152 126L200 122L374 119L390 130L390 145L384 234L377 326L370 400L172 400L160 326L148 280L139 212z" fill="url(#fringe)" stroke="url(#fringe)" stroke-width="9" stroke-linejoin="round" filter="url(#b2)"/>
<clipPath id="bc1"><path d="M134 148L152 126L200 122L374 119L390 130L390 145L384 234L377 326L370 400L172 400L160 326L148 280L139 212z"/></clipPath>
<g filter="url(#b2)"><path d="M134 148L152 126L200 122L374 119L390 130L390 145L384 234L377 326L370 400L172 400L160 326L148 280L139 212z" fill="url(#body1L)" stroke="url(#body1L)" stroke-width="1" stroke-linejoin="round"/><rect x="267.8" y="0" width="300" height="340" fill="url(#body1R)" clip-path="url(#bc1)"/></g>
<g clip-path="url(#bc1)"><path d="M134 148L139 212L148 280L160 326L172 400M390 145L384 234L377 326L370 400" fill="none" stroke="#a8d400" stroke-opacity=".42" stroke-width="30" stroke-linejoin="round" filter="url(#b5)"/></g>
<path d="M132 200L140 200L150 280L164 326L132 326z" fill="url(#fringe)" fill-opacity=".9" filter="url(#b5)"/>
<path d="M386 160L392 160L386 234L380 326L366 326L374 234z" fill="url(#fringe)" fill-opacity=".9" filter="url(#b5)"/>
<rect x="168" y="139.5" width="200" height="26" rx="13" fill="#ff5a28" fill-opacity=".8" filter="url(#b5)"/>
<rect x="154" y="124.5" width="212" height="28" rx="14" fill="#ff2a40" filter="url(#b3)"/>
<ellipse cx="273" cy="130.5" rx="87" ry="9.0" fill="#ff6c84" filter="url(#b3)"/>
<ellipse cx="273" cy="130" rx="73" ry="6.0" fill="#ffd2c8" filter="url(#b3)"/>
<path d="M267.8 219V324" stroke="#207010" stroke-opacity=".45" stroke-width="1.6" fill="none" filter="url(#t1)"/>
<g filter="url(#t1)" fill="none"><path d="M206.8 177.3h71M242.3 142.3v70" stroke="#ffe0a0" stroke-width="7" stroke-opacity=".7"/><path d="M206.8 177.3h71M242.3 142.3v70" stroke="#50300a" stroke-width="3.3"/></g>
<g filter="url(#t1)">
<rect x="5" y="4.5" width="131.5" height="37" fill="#002c9c"/>
<rect x="142.4" y="4.6" width="23.3" height="23" fill="#0034a4"/>
<rect x="394.7" y="56.5" width="58" height="31" fill="#060c66"/>
<rect x="394.7" y="237.6" width="56" height="28.5" fill="#002a98"/>
<rect x="433.2" y="92.8" width="12" height="138.5" fill="url(#cbar)"/>
<g font-family="'Liberation Sans',sans-serif" fill="#e4eeff">
<text x="6" y="27" font-size="12.5" fill="#c0d0f4" textLength="30" lengthAdjust="spacingAndGlyphs">Spot</text>
<text x="45" y="28.5" font-size="13" fill="#a8bce8">~</text>
<text x="68.5" y="32" font-size="27" textLength="52.5" lengthAdjust="spacingAndGlyphs">53.1</text>
<text x="144.5" y="22.5" font-size="14.5" fill="#c4d8ff" textLength="19.5" lengthAdjust="spacingAndGlyphs">°C</text>
<circle cx="379.8" cy="20.6" r="5.2" fill="none" stroke="#e0eeff" stroke-width="3.4"/>
<text x="391.5" y="27.4" font-size="18" font-weight="bold" fill="#dcecff" textLength="47.5" lengthAdjust="spacingAndGlyphs">FLIR</text>
<text x="403" y="79.8" font-size="24" fill="#d0d8f8" textLength="43" lengthAdjust="spacingAndGlyphs">92.3</text>
<text x="403" y="260.4" font-size="24" fill="#d4e2ff" textLength="43" lengthAdjust="spacingAndGlyphs">25.6</text>
</g></g>
</g></g>
<clipPath id="tc2"><rect width="453" height="325"/></clipPath>
<g transform="translate(1176 462)"><g clip-path="url(#tc2)">
<rect width="453" height="325" fill="url(#bg)"/>
<g filter="url(#b5)">
<rect x="-20" y="190" width="150" height="42" fill="#02085c"/>
<rect x="-20" y="100" width="66" height="92" fill="#001c70"/>
<rect x="196" y="66" width="170" height="22" fill="#002f86"/>
<rect x="398" y="84" width="80" height="130" fill="#0a0660"/>
<rect x="388" y="232" width="80" height="110" fill="#0058c6"/>
</g>
<g filter="url(#b3)">
<rect x="46" y="98" width="56" height="78" fill="#00429c"/>
<rect x="116" y="96" width="58" height="92" fill="#0068d8"/>
<rect x="121" y="156" width="20" height="32" fill="#0088c8"/>
</g>
<path d="M136 139L156 117L200 114L358 114L390 139L390 180L385 232L374 327L366 400L160 400L152 327L143 232z" fill="none" stroke="#0084d0" stroke-width="22" stroke-linejoin="round" filter="url(#b3)"/>
<path d="M136 139L156 117L200 114L358 114L390 139L390 180L385 232L374 327L366 400L160 400L152 327L143 232z" fill="url(#fringe)" stroke="url(#fringe)" stroke-width="9" stroke-linejoin="round" filter="url(#b2)"/>
<clipPath id="bc2"><path d="M136 139L156 117L200 114L358 114L390 139L390 180L385 232L374 327L366 400L160 400L152 327L143 232z"/></clipPath>
<g filter="url(#b2)"><path d="M136 139L156 117L200 114L358 114L390 139L390 180L385 232L374 327L366 400L160 400L152 327L143 232z" fill="url(#body2L)" stroke="url(#body2L)" stroke-width="1" stroke-linejoin="round"/><rect x="263" y="0" width="300" height="340" fill="url(#body2R)" clip-path="url(#bc2)"/></g>
<g clip-path="url(#bc2)"><path d="M136 139L143 232L152 327L160 400M390 139L390 180L385 232L374 327L366 400" fill="none" stroke="#a8d400" stroke-opacity=".42" stroke-width="30" stroke-linejoin="round" filter="url(#b5)"/></g>
<path d="M134 240L144 240L158 327L134 327z" fill="url(#fringe)" fill-opacity=".9" filter="url(#b5)"/>
<path d="M386 170L392 170L388 232L378 327L362 327L374 232z" fill="url(#fringe)" fill-opacity=".9" filter="url(#b5)"/>
<rect x="171" y="131" width="194" height="30" rx="15" fill="#ff5a28" fill-opacity=".8" filter="url(#b5)"/>
<rect x="157" y="116" width="206" height="32" rx="16" fill="#ff2a40" filter="url(#b3)"/>
<ellipse cx="264" cy="126.9" rx="85" ry="11.0" fill="#ff6c84" filter="url(#b3)"/>
<ellipse cx="264" cy="126.4" rx="71" ry="8.0" fill="#ffd2c8" filter="url(#b3)"/>
<g filter="url(#t1)" fill="none"><path d="M206.7 177.4h71M242.2 142.4v70" stroke="#ffe0a0" stroke-width="7" stroke-opacity=".7"/><path d="M206.7 177.4h71M242.2 142.4v70" stroke="#50300a" stroke-width="3.3"/></g>
<g filter="url(#t1)">
<rect x="5" y="4.5" width="131.5" height="37" fill="#002c9c"/>
<rect x="142.4" y="4.6" width="23.3" height="23" fill="#0034a4"/>
<rect x="394.7" y="56.5" width="58" height="31" fill="#060c66"/>
<rect x="394.7" y="237.6" width="56" height="28.5" fill="#002a98"/>
<rect x="433.2" y="92.8" width="12" height="138.5" fill="url(#cbar)"/>
<g font-family="'Liberation Sans',sans-serif" fill="#e4eeff">
<text x="6" y="27" font-size="12.5" fill="#c0d0f4" textLength="30" lengthAdjust="spacingAndGlyphs">Spot</text>
<text x="45" y="28.5" font-size="13" fill="#a8bce8">~</text>
<text x="68.5" y="32" font-size="27" textLength="52.5" lengthAdjust="spacingAndGlyphs">48.8</text>
<text x="144.5" y="22.5" font-size="14.5" fill="#c4d8ff" textLength="19.5" lengthAdjust="spacingAndGlyphs">°C</text>
<circle cx="379.8" cy="20.6" r="5.2" fill="none" stroke="#e0eeff" stroke-width="3.4"/>
<text x="391.5" y="27.4" font-size="18" font-weight="bold" fill="#dcecff" textLength="47.5" lengthAdjust="spacingAndGlyphs">FLIR</text>
<text x="403" y="79.8" font-size="24" fill="#d0d8f8" textLength="43" lengthAdjust="spacingAndGlyphs">84.6</text>
<text x="403" y="260.4" font-size="24" fill="#d4e2ff" textLength="43" lengthAdjust="spacingAndGlyphs">22.8</text>
</g></g>
</g></g>
<clipPath id="tc3"><rect width="457.6" height="325"/></clipPath>
<g transform="translate(1650.5 462)"><g clip-path="url(#tc3)">
<rect width="457.6" height="325" fill="url(#bg)"/>
<g filter="url(#b8)">
<rect x="-20" y="86" width="70" height="110" fill="#031064"/>
<ellipse cx="72" cy="225" rx="58" ry="80" fill="#0046a8"/>
<rect x="-20" y="225" width="60" height="60" fill="#002a80"/>
<rect x="200" y="66" width="170" height="24" fill="#002c82"/>
<rect x="398" y="84" width="80" height="130" fill="#0a0660"/>
<rect x="388" y="236" width="80" height="100" fill="#0058c6"/>
<rect x="-20" y="296" width="160" height="50" fill="#0052bc"/>
</g>
<g filter="url(#b3)">
<rect x="112" y="96" width="60" height="88" fill="#0060cc"/>
<ellipse cx="92" cy="140" rx="16" ry="15" fill="#0058c4"/>
</g>
<path d="M125 141L139 123L180 121L353 118L383 141L383 180L378 232L376 327L374 400L152 400L146 327L139 232L134 176z" fill="none" stroke="#0084d0" stroke-width="22" stroke-linejoin="round" filter="url(#b3)"/>
<path d="M125 141L139 123L180 121L353 118L383 141L383 180L378 232L376 327L374 400L152 400L146 327L139 232L134 176z" fill="url(#fringe)" stroke="url(#fringe)" stroke-width="9" stroke-linejoin="round" filter="url(#b2)"/>
<clipPath id="bc3"><path d="M125 141L139 123L180 121L353 118L383 141L383 180L378 232L376 327L374 400L152 400L146 327L139 232L134 176z"/></clipPath>
<g filter="url(#b2)"><path d="M125 141L139 123L180 121L353 118L383 141L383 180L378 232L376 327L374 400L152 400L146 327L139 232L134 176z" fill="url(#body3L)" stroke="url(#body3L)" stroke-width="1" stroke-linejoin="round"/><rect x="258.4" y="0" width="300" height="340" fill="url(#body3R)" clip-path="url(#bc3)"/></g>
<g clip-path="url(#bc3)"><path d="M125 141L134 176L139 232L146 327L152 400M383 141L383 180L378 232L376 327L374 400" fill="none" stroke="#a8d400" stroke-opacity=".42" stroke-width="30" stroke-linejoin="round" filter="url(#b5)"/></g>
<path d="M126 200L136 200L142 232L152 327L126 327z" fill="url(#fringe)" fill-opacity=".9" filter="url(#b5)"/>
<path d="M380 170L386 170L382 232L380 327L364 327L370 232z" fill="url(#fringe)" fill-opacity=".9" filter="url(#b5)"/>
<rect x="164" y="136.5" width="198" height="26" rx="13" fill="#ff5a28" fill-opacity=".8" filter="url(#b5)"/>
<rect x="150" y="121.5" width="210" height="28" rx="14" fill="#ff2a40" filter="url(#b3)"/>
<ellipse cx="266.5" cy="130.2" rx="89" ry="9.0" fill="#ff6c84" filter="url(#b3)"/>
<ellipse cx="266.5" cy="129.7" rx="75" ry="6.0" fill="#ffd2c8" filter="url(#b3)"/>
<path d="M258.4 205V325" stroke="#207010" stroke-opacity=".45" stroke-width="1.6" fill="none" filter="url(#t1)"/>
<g filter="url(#t1)" fill="none"><path d="M206.8 177.4h71M242.3 142.4v70" stroke="#ffe0a0" stroke-width="7" stroke-opacity=".7"/><path d="M206.8 177.4h71M242.3 142.4v70" stroke="#50300a" stroke-width="3.3"/></g>
<g filter="url(#t1)">
<rect x="5" y="4.5" width="131.5" height="37" fill="#002c9c"/>
<rect x="142.4" y="4.6" width="23.3" height="23" fill="#0034a4"/>
<rect x="394.7" y="56.5" width="58" height="31" fill="#060c66"/>
<rect x="394.7" y="237.6" width="56" height="28.5" fill="#002a98"/>
<rect x="433.2" y="92.8" width="12" height="138.5" fill="url(#cbar)"/>
<g font-family="'Liberation Sans',sans-serif" fill="#e4eeff">
<text x="6" y="27" font-size="12.5" fill="#c0d0f4" textLength="30" lengthAdjust="spacingAndGlyphs">Spot</text>
<text x="45" y="28.5" font-size="13" fill="#a8bce8">~</text>
<text x="68.5" y="32" font-size="27" textLength="52.5" lengthAdjust="spacingAndGlyphs">50.2</text>
<text x="144.5" y="22.5" font-size="14.5" fill="#c4d8ff" textLength="19.5" lengthAdjust="spacingAndGlyphs">°C</text>
<circle cx="379.8" cy="20.6" r="5.2" fill="none" stroke="#e0eeff" stroke-width="3.4"/>
<text x="391.5" y="27.4" font-size="18" font-weight="bold" fill="#dcecff" textLength="47.5" lengthAdjust="spacingAndGlyphs">FLIR</text>
<text x="403" y="79.8" font-size="24" fill="#d0d8f8" textLength="43" lengthAdjust="spacingAndGlyphs">85.1</text>
<text x="403" y="260.4" font-size="24" fill="#d4e2ff" textLength="43" lengthAdjust="spacingAndGlyphs">24.4</text>
</g></g>
</g></g>
<path fill="#fefefe" d="M2104.7 124.5h3.4v134h-3.4zM2104.7 701h3.4v86.5h-3.4z"/><path fill="#000" d="M2104.7 174.3h3.4v7h-3.4zM2104.7 758.8h3.4v7h-3.4z"/><path fill="#222" d="M1633 258.8h12.5v2.8h-12.5z"/>
</g>
</svg>
</body>
</html>
